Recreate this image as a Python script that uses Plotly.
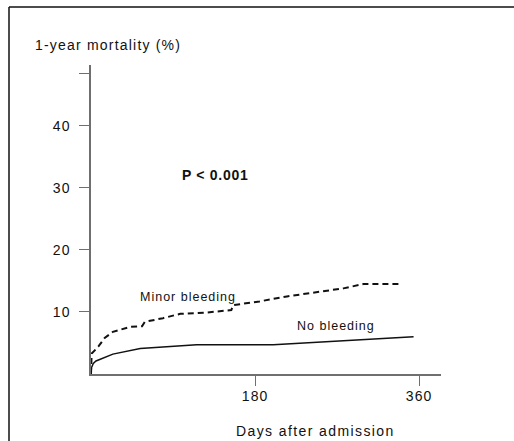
import plotly.graph_objects as go

# Cumulative 1-year mortality (%) by days after admission
days_no_bleed = [0, 0.5, 2.5, 5.5, 24, 54, 116, 200, 354]
mort_no_bleed = [0, 1.0, 1.7, 2.1, 3.2, 4.1, 4.7, 4.7, 6.0]

days_minor = [0, 0.7, 8, 15, 24, 43, 56, 59, 79, 98, 127, 154, 156, 185, 215, 255, 277, 299, 339]
mort_minor = [0, 3.3, 4.4, 5.8, 6.8, 7.6, 7.7, 8.4, 9.0, 9.7, 9.9, 10.3, 11.1, 11.7, 12.5, 13.3, 13.8, 14.5, 14.5]

x_tick_vals = [180, 360]
x_tick_text = ["180", "360"]
y_tick_vals = [10, 20, 30, 40, 48.5]
y_tick_text = ["10", "20", "30", "40", ""]

W, H = 514, 441
L, R, T, B = 91, 441, 65, 374  # plot area in pixels
X_MAX = 384.1
Y_MAX = 49.8

TEXT = "#111111"
AXIS = "#6f6f6f"
FONT = "Liberation Sans, Arial, Helvetica, sans-serif"


def px(x):
    return (x - L) / (R - L)


def py(y):
    return (B - y) / (B - T)


def spaced(s, ls=1.2):
    return f'<span style="letter-spacing:{ls}px">{s}</span>'


fig = go.Figure()

fig.add_trace(go.Scatter(
    x=days_minor, y=mort_minor, mode="lines",
    line=dict(color="#111111", width=2, dash="6px,4px"),
    hoverinfo="skip", showlegend=False,
))
fig.add_trace(go.Scatter(
    x=days_no_bleed, y=mort_no_bleed, mode="lines",
    line=dict(color="#111111", width=1.5),
    hoverinfo="skip", showlegend=False,
))

fig.update_layout(
    width=W, height=H,
    margin=dict(l=L, r=W - R, t=T, b=H - B, pad=0),
    paper_bgcolor="white", plot_bgcolor="white",
    font=dict(family=FONT, size=14, color=TEXT),
    xaxis=dict(
        range=[0, X_MAX], showgrid=False, zeroline=False,
        showline=True, linecolor=AXIS, linewidth=1.5,
        ticks="outside", ticklen=10, tickwidth=1.2, tickcolor=AXIS,
        tickvals=x_tick_vals, ticktext=[spaced(t, 1) for t in x_tick_text],
        tickfont=dict(size=14, color=TEXT), ticklabelstandoff=-2,
        fixedrange=True,
    ),
    yaxis=dict(
        range=[0, Y_MAX], showgrid=False, zeroline=False,
        showline=True, linecolor=AXIS, linewidth=1.5,
        ticks="outside", ticklen=10, tickwidth=1.2, tickcolor=AXIS,
        tickvals=y_tick_vals, ticktext=[spaced(t, 1) if t else t for t in y_tick_text],
        tickfont=dict(size=14, color=TEXT), ticklabelstandoff=6,
        fixedrange=True,
    ),
    shapes=[
        # frame around the figure (top and left edges)
        dict(type="line", xref="paper", yref="paper",
             x0=px(9), x1=px(W + 5), y0=py(7), y1=py(7),
             line=dict(color="#111111", width=1.5)),
        dict(type="line", xref="paper", yref="paper",
             x0=px(9), x1=px(9), y0=py(7), y1=py(H + 5),
             line=dict(color="#111111", width=1.5)),
    ],
    annotations=[
        dict(text=spaced("1-year mortality (%)", 1.2), xref="paper", yref="paper",
             x=px(33), y=py(45), xanchor="left", yanchor="middle",
             showarrow=False, font=dict(size=14, color=TEXT)),
        dict(text=spaced("Days after admission", 1.4), xref="paper", yref="paper",
             x=px(315), y=py(431), xanchor="center", yanchor="middle",
             showarrow=False, font=dict(size=14, color=TEXT)),
        dict(text="<b>" + spaced("P < 0.001", 0.7) + "</b>", xref="paper", yref="paper",
             x=px(180), y=py(175), xanchor="left", yanchor="middle",
             showarrow=False, font=dict(size=14, color=TEXT)),
        dict(text=spaced("Minor bleeding", 1.0), xref="paper", yref="paper",
             x=px(138), y=py(297), xanchor="left", yanchor="middle",
             showarrow=False, font=dict(size=12.5, color=TEXT)),
        dict(text=spaced("No bleeding", 1.0), xref="paper", yref="paper",
             x=px(295), y=py(326), xanchor="left", yanchor="middle",
             showarrow=False, font=dict(size=12.5, color=TEXT)),
    ],
)

fig.write_html("out.html", config=dict(displayModeBar=False))
